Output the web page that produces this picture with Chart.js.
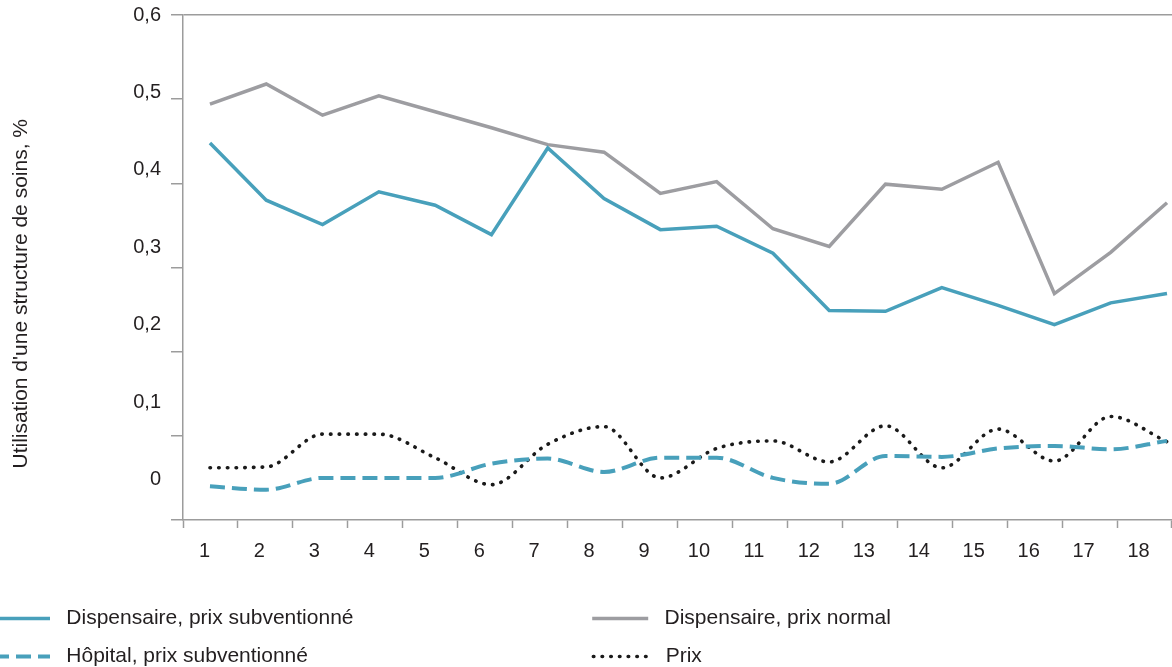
<!DOCTYPE html>
<html>
<head>
<meta charset="utf-8">
<script src="https://cdn.jsdelivr.net/npm/chart.js@4.4.1/dist/chart.umd.min.js"></script>
<style>
  html, body { margin: 0; padding: 0; background: #ffffff; overflow: hidden; width: 1172px; height: 667px; }
  #wrap { position: absolute; left: -23px; top: 0; width: 1195px; height: 677px; }
</style>
</head>
<body>
<div id="wrap"><canvas id="c"></canvas></div>
<script>
// ---- Data ----
const categories = ['1','2','3','4','5','6','7','8','9','10','11','12','13','14','15','16','17','18'];
const dispensaireSubventionne = [0.448,0.380,0.351,0.390,0.374,0.339,0.442,0.382,0.345,0.349,0.317,0.249,0.248,0.276,0.255,0.232,0.258,0.269];
const dispensaireNormal       = [0.494,0.518,0.481,0.504,0.485,0.466,0.446,0.437,0.388,0.402,0.346,0.325,0.399,0.393,0.425,0.269,0.318,0.377];
const hopitalSubventionne     = [0.040,0.036,0.050,0.050,0.050,0.067,0.073,0.057,0.074,0.074,0.050,0.043,0.076,0.075,0.085,0.088,0.084,0.094];
const prix                    = [0.062,0.063,0.102,0.102,0.074,0.042,0.090,0.111,0.050,0.085,0.094,0.069,0.112,0.062,0.108,0.070,0.123,0.093];
const yTickValues = [0, 0.1, 0.2, 0.3, 0.4, 0.5, 0.6];
const seriesNames = ['Dispensaire, prix subventionné', 'Dispensaire, prix normal', 'Hôpital, prix subventionné', 'Prix'];
const yTitle = "Utilisation d'une structure de soins, %";

// ---- Styling ----
const FONT = '"Liberation Sans", Arial, Helvetica, sans-serif';
const TEAL = '#48a0bb';
const GREY = '#9d9da1';
const DOT = '#1a1a1a';
const AXIS = '#9c9c9c';
const TEXT = '#231f20';

Chart.defaults.font.family = FONT;
Chart.defaults.color = TEXT;

const measureCtx = document.createElement('canvas').getContext('2d');
function padLabel(text, targetPx, size) {
  measureCtx.font = size + 'px ' + FONT;
  const sp = measureCtx.measureText(' ').width;
  let t = text;
  while (measureCtx.measureText(t + ' ').width <= targetPx + sp / 2) t += ' ';
  return t;
}

const fmt = v => {
  const n = Math.round(v * 10) / 10;
  return n === 0 ? '0' : n.toFixed(1).replace('.', ',');
};

new Chart(document.getElementById('c'), {
  type: 'line',
  data: {
    labels: categories,
    datasets: [
      { label: seriesNames[0], data: dispensaireSubventionne, borderColor: TEAL, backgroundColor: TEAL,
        borderWidth: 3.5, tension: 0, pointRadius: 0, xAxisID: 'x', yAxisID: 'y' },
      { label: seriesNames[1], data: dispensaireNormal, borderColor: GREY, backgroundColor: GREY,
        borderWidth: 3.5, tension: 0, pointRadius: 0, xAxisID: 'x', yAxisID: 'y' },
      { label: seriesNames[2], data: hopitalSubventionne, borderColor: TEAL, backgroundColor: TEAL,
        borderWidth: 4, borderDash: [15, 7], cubicInterpolationMode: 'monotone', pointRadius: 0,
        xAxisID: 'x', yAxisID: 'y' },
      { label: seriesNames[3], data: prix, borderColor: DOT, backgroundColor: DOT,
        borderWidth: 3.6, borderDash: [0.5, 8.2], borderCapStyle: 'round', cubicInterpolationMode: 'monotone',
        pointRadius: 0, xAxisID: 'x', yAxisID: 'y' }
    ]
  },
  options: {
    responsive: true,
    maintainAspectRatio: false,
    animation: false,
    layout: { padding: { top: 15, left: 0, right: 0, bottom: 0 } },
    plugins: {
      tooltip: { enabled: false },
      legend: {
        position: 'bottom',
        align: 'start',
        labels: {
          usePointStyle: true,
          pointStyle: 'line',
          pointStyleWidth: 56,
          padding: 17,
          color: TEXT,
          font: { size: 21 },
          generateLabels(chart) {
            const items = Chart.defaults.plugins.legend.labels.generateLabels(chart);
            items.sort((a, b) => a.datasetIndex - b.datasetIndex);
            items.forEach((it, i) => {
              const ds = chart.data.datasets[it.datasetIndex];
              it.lineDash = ds.borderDash || [];
              it.lineWidth = ds.borderWidth;
              it.lineCap = ds.borderCapStyle || 'butt';
              it.strokeStyle = ds.borderColor;
              it.fillStyle = ds.borderColor;
              it.text = ' ' + it.text;
              if (i % 2 === 0) it.text = padLabel(it.text, 515.5, 21);
            });
            return items;
          }
        }
      }
    },
    scales: {
      x: {
        type: 'linear',
        display: false,
        min: 0.521,
        max: 18.089
      },
      xCat: {
        type: 'category',
        position: 'bottom',
        offset: true,
        grid: { offset: true, drawOnChartArea: false, tickLength: 8, tickColor: AXIS, tickWidth: 1.5 },
        border: { color: AXIS, width: 1.5 },
        ticks: { font: { size: 20 }, color: TEXT, padding: 11, labelOffset: -6, maxRotation: 0, autoSkip: false },
        title: { display: true, text: '', font: { size: 10 }, padding: { top: 0, bottom: 5 } }
      },
      y: {
        type: 'linear',
        position: 'left',
        weight: 0,
        min: 0,
        max: 0.6,
        afterBuildTicks: s => { s.ticks = yTickValues.map(v => ({ value: v })); },
        ticks: { display: false },
        grid: {
          drawOnChartArea: true,
          color: ctx => (ctx.tick && ctx.tick.value === 0.6 ? AXIS : 'rgba(0,0,0,0)'),
          lineWidth: 1.5,
          tickLength: 12,
          tickColor: AXIS,
          tickWidth: 1.5
        },
        border: { color: AXIS, width: 1.5 }
      },
      yLab: {
        type: 'linear',
        position: 'left',
        weight: 10,
        min: -0.0517,
        max: 0.6,
        afterBuildTicks: s => { s.ticks = yTickValues.map(v => ({ value: v })); },
        afterFit: s => { s.paddingTop = 0; s.paddingBottom = 0; },
        grid: { display: false, drawTicks: false },
        border: { display: false },
        ticks: { font: { size: 20 }, color: TEXT, padding: 10, callback: v => fmt(v) },
        title: {
          display: true,
          text: yTitle + '         ',
          font: { size: 21 },
          color: TEXT,
          padding: { top: 31.4, bottom: 89.6 }
        }
      }
    }
  }
});
</script>
</body>
</html>
